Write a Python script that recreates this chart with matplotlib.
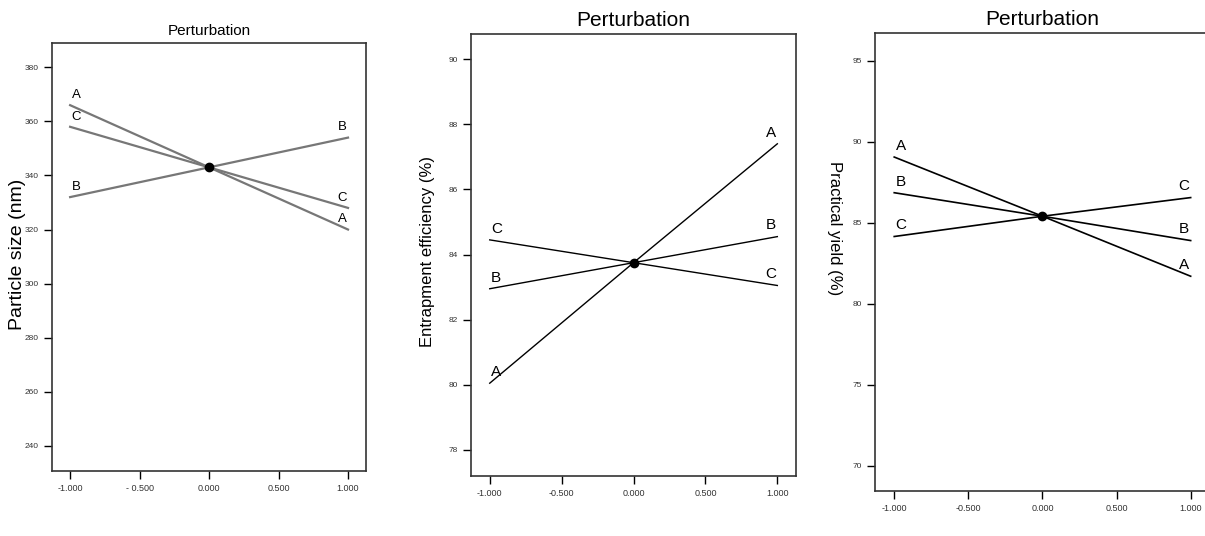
import matplotlib
matplotlib.use("Agg")
import matplotlib.pyplot as plt

plt.rcParams['font.family'] = ['Liberation Sans Narrow', 'Liberation Sans', 'DejaVu Sans']

# deviation from reference point (coded)
dev = [-1.0, 0.0, 1.0]
xticks = [-1.0, -0.5, 0.0, 0.5, 1.0]

# particle size (nm)
ps_A = [366, 343, 320]
ps_B = [332, 343, 354]
ps_C = [358, 343, 328]
ps_ticks = [240, 260, 280, 300, 320, 340, 360, 380]

# entrapment efficiency (%)
ee_A = [80.05, 83.75, 87.4]
ee_B = [82.95, 83.75, 84.55]
ee_C = [84.45, 83.75, 83.05]
ee_ticks = [78, 80, 82, 84, 86, 88, 90]

# practical yield (%)
py_A = [89.05, 85.4, 81.7]
py_B = [86.85, 85.4, 83.9]
py_C = [84.15, 85.4, 86.55]
py_ticks = [70, 75, 80, 85, 90, 95]

fig = plt.figure(figsize=(12.05, 5.36), dpi=100)


def panel(rect, series, yticks, ylim, ylabel, color, lw, title_fs, lab_fs, tick_labels, ylab_kw, ylab_pos):
    ax = fig.add_axes(rect)
    for name, vals in series:
        ax.plot(dev, vals, color=color, lw=lw)
        ax.annotate(name, (dev[0], vals[0]), xytext=(1, 3), textcoords="offset points",
                    ha="left", va="bottom", fontsize=lab_fs, color="black")
        ax.annotate(name, (dev[-1], vals[-1]), xytext=(-1, 3), textcoords="offset points",
                    ha="right", va="bottom", fontsize=lab_fs, color="black")
    ax.plot(dev[1], series[0][1][1], "o", color="black", ms=6, zorder=5)
    ax.set_xlim(-1.13, 1.13)
    ax.set_ylim(*ylim)
    ax.set_yticks(yticks)
    ax.set_yticklabels([str(t) for t in yticks], fontsize=6, color="#333333")
    ax.set_xticks(xticks)
    ax.set_xticklabels(tick_labels, fontsize=6.5, color="#333333")
    ax.tick_params(direction="out", length=6, width=1)
    for s in ax.spines.values():
        s.set_linewidth(1.2)
        s.set_color("#333333")
    ax.set_title("Perturbation", fontsize=title_fs, pad=6)
    ax.set_ylabel(ylabel, **ylab_kw)
    ax.yaxis.set_label_coords(*ylab_pos)
    return ax


panel([0.0432, 0.1213, 0.2606, 0.7985],
      [("A", ps_A), ("B", ps_B), ("C", ps_C)],
      ps_ticks, (230.7, 389), "Particle size (nm)", "#777777", 1.6, 11, 9.5,
      ["-1.000", "- 0.500", "0.000", "0.500", "1.000"],
      dict(fontsize=14, family=['Liberation Sans', 'DejaVu Sans'], va="center"),
      (-0.111, 0.505))

panel([0.3909, 0.1119, 0.2697, 0.8246],
      [("A", ee_A), ("B", ee_B), ("C", ee_C)],
      ee_ticks, (77.2, 90.77), "Entrapment efficiency (%)", "black", 1.0, 15, 11,
      ["-1.000", "-0.500", "0.000", "0.500", "1.000"],
      dict(fontsize=12, family=['Liberation Sans', 'DejaVu Sans'], va="center"),
      (-0.135, 0.507))

ax3 = panel([0.7261, 0.084, 0.278, 0.8545],
            [("A", py_A), ("B", py_B), ("C", py_C)],
            py_ticks, (68.46, 96.7), "Practical yield (%)", "black", 1.2, 15, 11,
            ["-1.000", "-0.500", "0.000", "0.500", "1.000"],
            dict(fontsize=12, family=['Liberation Sans', 'DejaVu Sans'], rotation=270, va="center"),
            (-0.122, 0.574))
ax3.spines["right"].set_visible(False)

fig.savefig("out.png", dpi=100)
